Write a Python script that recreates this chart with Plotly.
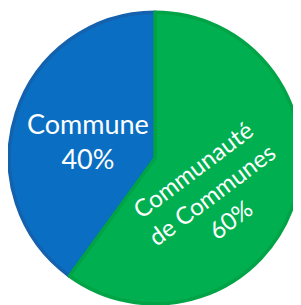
import plotly.graph_objects as go

labels = ["Commune", "Communauté de Communes"]
label_lines = ["Commune", "Communauté<br>de Communes"]
values = [40, 60]
fill_colors = ["#0A6FC2", "#00B050"]
line_colors = ["#1461AE", "#00A346"]

total = sum(values)
pcts = [round(v * 100 / total) for v in values]

# The page body has a default 8px margin, so the figure is sized to fill the rest
fig = go.Figure()
fig.add_trace(go.Pie(
    labels=labels,
    values=values,
    sort=False,
    direction="clockwise",
    rotation=-values[0] / total * 360,
    textinfo="none",
    hoverinfo="label+percent",
    marker=dict(colors=fill_colors, line=dict(color=line_colors, width=3.5)),
    domain=dict(x=[0.004, 1.0], y=[0.004, 0.986]),
    showlegend=False,
))

font_family = "Lato, 'Open Sans', sans-serif"
fig.add_annotation(
    x=0.273, y=0.552, xref="paper", yref="paper",
    xanchor="center", yanchor="middle",
    text=f"{label_lines[0]}<br>{pcts[0]}%",
    showarrow=False, align="center",
    font=dict(family=font_family, size=27, color="white"),
)
fig.add_annotation(
    x=0.696, y=0.374, xref="paper", yref="paper",
    xanchor="center", yanchor="middle",
    text=f"{label_lines[1]}<br>{pcts[1]}%",
    showarrow=False, align="center", textangle=-37,
    font=dict(family=font_family, size=24, color="white"),
)

fig.update_layout(
    width=293, height=297,
    margin=dict(l=0, r=0, t=0, b=0),
    paper_bgcolor="white",
    plot_bgcolor="white",
)

fig.write_html("out.html")
